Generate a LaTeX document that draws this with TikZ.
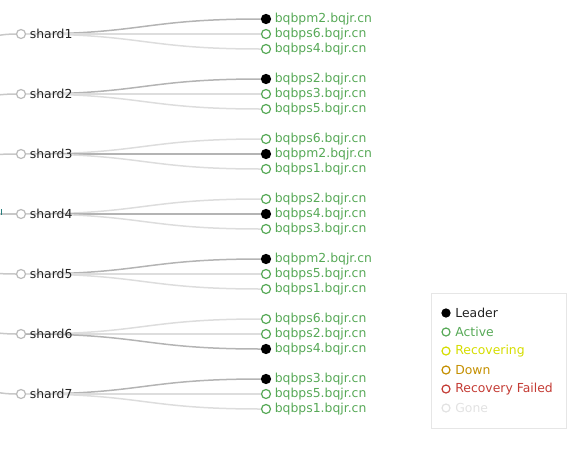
\documentclass[tikz,border=0pt]{standalone}
\usepackage{fontspec}
\setmainfont{DejaVu Sans}
\usetikzlibrary{positioning}
\definecolor{active}{HTML}{57A957}
\definecolor{recovering}{HTML}{D5DD00}
\definecolor{down}{HTML}{C48F00}
\definecolor{failed}{HTML}{C43C35}
\definecolor{gone}{HTML}{E2E2E2}
\definecolor{shardgray}{HTML}{BBBBBB}
\definecolor{linkgray}{HTML}{DDDDDD}
\definecolor{leadgray}{HTML}{B4B4B4}
\definecolor{rootgray}{HTML}{C8C8C8}
\definecolor{legendgray}{HTML}{E6E6E6}
\definecolor{teal}{HTML}{2A7F7F}
\definecolor{ink}{HTML}{222222}

\begin{document}
\begin{tikzpicture}[x=1pt,y=-1pt,line width=1.5pt,
  shard/.style={circle,draw=shardgray,fill=white,minimum size=9pt,inner sep=0pt,line width=1.2pt},
  replica/.style={circle,draw=active,fill=white,minimum size=9pt,inner sep=0pt,line width=1.2pt},
  leader/.style={replica,draw=black,fill=black},
  shardname/.style={inner sep=0pt,text=ink,font=\fontsize{12.4}{14}\selectfont},
  hostname/.style={inner sep=0pt,text=active,font=\fontsize{12.4}{14}\selectfont},
  keyname/.style={inner sep=0pt,font=\fontsize{12.4}{14}\selectfont},
  link/.style={draw=linkgray},
  leadlink/.style={draw=leadgray},
  rootlink/.style={draw=rootgray}]
  \clip (0,0) rectangle (571,448);
  \coordinate (root) at (-224,214);

  % shards and their replicas
  \foreach \s/\lead/\ra/\rb/\rc in {1/1/bqbpm2/bqbps6/bqbps4, 2/1/bqbps2/bqbps3/bqbps5,
      3/2/bqbps6/bqbpm2/bqbps1, 4/2/bqbps2/bqbps4/bqbps3, 5/1/bqbpm2/bqbps5/bqbps1,
      6/3/bqbps6/bqbps2/bqbps4, 7/1/bqbps3/bqbps5/bqbps1} {
    \pgfmathtruncatemacro\ys{34+60*(\s-1)}
    \node[shard] (s\s) at (21,\ys) {};
    \draw[rootlink] (root) .. controls (-101.5,214) and (-101.5,\ys) .. (s\s);
    \foreach \r/\h in {1/\ra,2/\rb,3/\rc} {
      \pgfmathtruncatemacro\yr{\ys+15*(\r-2)}
      \ifnum\r=\lead \def\kind{leader}\def\lk{leadlink}\else\def\kind{replica}\def\lk{link}\fi
      \node[\kind] (r\s\r) at (266,\yr) {};
      \draw[\lk] (s\s) .. controls (143.5,\ys) and (143.5,\yr) .. (r\s\r);
      \node[hostname,right=3pt of r\s\r] (r\s\r-txt) {\h.bqjr.cn};
    }
    \node[shardname,right=3pt of s\s] (s\s-txt) {shard\s};
  }
  \draw[teal,line width=1pt] (1.5,209) -- (1.5,215);

  % legend
  \node[draw=legendgray,line width=.8pt,minimum width=135pt,minimum height=135pt,
    inner sep=0pt,anchor=north west] (legend) at (431,293) {};
  \foreach \k/\txt/\col/\fcol/\tcol in {0/Leader/black/black/ink, 1/Active/active/white/active,
      2/Recovering/recovering/white/recovering, 3/Down/down/white/down,
      4/Recovery Failed/failed/white/failed, 5/Gone/gone/white/gone} {
    \node[circle,draw=\col,fill=\fcol,line width=1.2pt,minimum size=8pt,inner sep=0pt] (key\k) at (446,313+19*\k) {};
    \node[keyname,text=\tcol,right=4pt of key\k] (key\k-txt) {\txt};
  }
\end{tikzpicture}
\end{document}
